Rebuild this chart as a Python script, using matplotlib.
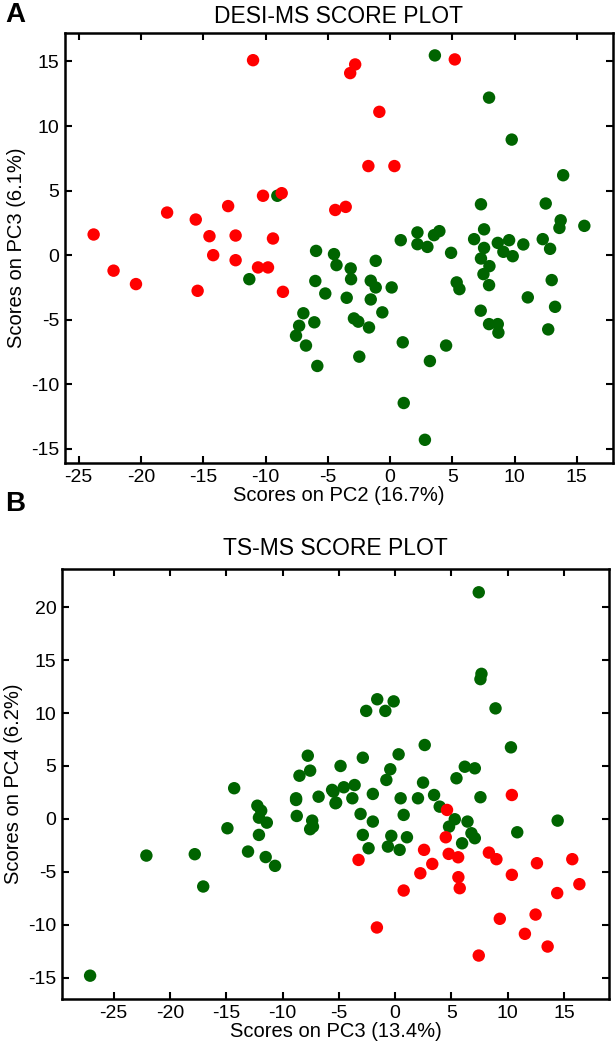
import matplotlib.pyplot as plt

plt.rcParams['font.family'] = ['Liberation Sans', 'DejaVu Sans']
plt.rcParams['axes.unicode_minus'] = False

# DESI-MS scores (PC2, PC3)
desi_red_x = [-11.0, -10.2, -8.7, -17.9, -15.6, -13.0, -23.8, -14.5, -12.4, -9.4,
              -4.4, -14.2, -12.4, -10.6, -9.8, -22.2, -20.4, -15.45, -8.6,
              -2.8, -3.2, 5.2, -0.86, -1.74, 0.35, -3.56]
desi_red_y = [15.1, 4.6, 4.8, 3.3, 2.76, 3.8, 1.6, 1.47, 1.52, 1.29,
              3.5, 0.0, -0.39, -0.95, -0.95, -1.2, -2.24, -2.76, -2.84,
              14.77, 14.1, 15.16, 11.1, 6.9, 6.9, 3.74]
desi_green_x = [-9.05, -5.94, -4.5, -4.3, -11.3, -6.0, -5.2, -6.96, -7.3, -7.55,
                -6.08, -6.75, -5.84, 3.6, 7.95, 9.77, 13.9, 7.3, 12.5, 13.7,
                13.6, 15.6, 7.55, 2.2, 3.53, 3.96, 0.86, 2.2, 3.0, 4.9,
                6.75, 7.55, 8.65, 9.56, 9.1, 9.85, 10.7, 12.26, 12.85, 7.3,
                7.98, -1.15, -3.16, -3.13, -3.48, -1.55, -1.15, 0.13, -1.55, -0.62,
                -2.9, -2.55, -1.69, -2.47, 1.02, 3.2, 4.5, 1.1, 2.8, 7.5,
                7.95, 5.35, 5.57, 7.28, 7.95, 8.65, 8.7, 11.06, 12.98, 13.25,
                12.7]
desi_green_y = [4.6, 0.33, 0.08, -0.77, -1.86, -2.0, -2.97, -4.5, -5.47, -6.24,
                -5.2, -7.0, -8.58, 15.47, 12.2, 8.95, 6.19, 3.94, 4.0, 2.7,
                2.11, 2.27, 2.0, 1.76, 1.55, 1.86, 1.16, 0.85, 0.64, 0.18,
                1.24, 0.56, 0.95, 1.16, 0.26, -0.08, 0.83, 1.24, 0.49, -0.26,
                -0.85, -0.44, -1.03, -1.86, -3.3, -1.98, -2.5, -2.5, -3.43, -4.43,
                -4.9, -5.15, -5.6, -7.86, -6.75, -8.2, -7.0, -11.45, -14.3, -1.47,
                -2.32, -2.11, -2.63, -4.3, -5.34, -5.34, -6.0, -3.27, -1.93, -4.0,
                -5.75]

# TS-MS scores (PC3, PC4)
ts_red_x = [10.37, 4.61, 4.5, 4.76, 5.6, 2.57, 3.3, 2.24, 0.76, -3.25,
            -1.62, 5.62, 5.74, 8.33, 9.0, 10.37, 12.6, 15.74, 16.37, 14.4,
            9.3, 12.48, 11.53, 13.55, 7.43]
ts_red_y = [2.26, 0.85, -1.73, -3.3, -3.62, -2.92, -4.25, -5.13, -6.76, -3.87,
            -10.25, -5.5, -6.54, -3.18, -3.8, -5.28, -4.18, -3.8, -6.16, -7.0,
            -9.43, -9.03, -10.85, -12.05, -12.9]
ts_green_x = [-7.76, -8.5, -7.55, -14.3, -4.85, -8.8, -6.8, -5.6, -27.1, -22.1,
              -17.8, -17.05, -14.9, -13.07, -12.24, -11.9, -12.1, -11.4, -12.1, -11.5,
              -10.67, -8.8, -8.74, -7.37, -7.3, -7.55, -5.3, 7.43, 7.67, 7.58,
              8.92, -1.59, -0.13, -2.57, -0.87, 10.29, 2.63, 0.31, -2.87, -0.43,
              6.19, 7.08, -0.78, 5.45, 2.48, -3.6, -4.56, -1.98, 3.46, -3.8,
              0.49, 2.03, 7.58, -5.48, -5.24, -3.07, -1.98, -2.87, -2.36, 0.76,
              -0.34, -0.64, 0.4, 1.05, 3.96, 5.3, 4.79, 6.43, 6.78, 7.08,
              5.95, 10.85, 14.44]
ts_green_y = [5.97, 4.08, 4.56, 2.9, 5.0, 1.95, 2.1, 2.74, -14.8, -3.46,
              -3.33, -6.38, -0.88, -3.08, 1.25, 0.78, 0.12, -0.35, -1.51, -3.6,
              -4.43, 1.79, 0.28, -0.16, -0.73, -0.97, 1.48, 21.4, 13.7, 13.2,
              10.44, 11.3, 11.1, 10.2, 10.2, 6.76, 6.98, 6.1, 5.78, 4.69,
              4.93, 4.78, 3.68, 3.84, 3.43, 3.2, 2.99, 2.36, 2.26, 1.95,
              1.95, 1.95, 2.05, 2.58, 1.54, 0.47, -0.25, -1.51, -2.77, 0.38,
              -1.6, -2.61, -2.92, -1.73, 1.16, -0.03, -0.73, -0.25, -1.35, -1.82,
              -2.3, -1.26, -0.16]

red = '#ff0000'
green = '#006400'

fig = plt.figure(figsize=(6.16, 10.5), dpi=100)
axA = fig.add_axes([0.1055, 0.559, 0.8896, 0.4095])
axB = fig.add_axes([0.1006, 0.0486, 0.888, 0.4095])


def style(ax):
    for s in ax.spines.values():
        s.set_linewidth(1.8)
    ax.tick_params(direction='in', top=True, right=True, length=5, width=1.5,
                   labelsize=14, pad=4)


axA.scatter(desi_green_x, desi_green_y, s=80, color=green, edgecolors='none', zorder=2)
axA.scatter(desi_red_x, desi_red_y, s=80, color=red, edgecolors='none', zorder=3)
axA.set_xlim(-26.1, 17.9)
axA.set_ylim(-16.1, 17.2)
axA.set_xticks([-25, -20, -15, -10, -5, 0, 5, 10, 15])
axA.set_yticks([-15, -10, -5, 0, 5, 10, 15])
axA.set_xlabel('Scores on PC2 (16.7%)', fontsize=14.5, labelpad=0)
axA.set_ylabel('Scores on PC3 (6.1%)', fontsize=14.5, labelpad=4)
axA.set_title('DESI-MS SCORE PLOT', fontsize=16.5, pad=7)
style(axA)

axB.scatter(ts_green_x, ts_green_y, s=80, color=green, edgecolors='none', zorder=2)
axB.scatter(ts_red_x, ts_red_y, s=80, color=red, edgecolors='none', zorder=3)
axB.set_xlim(-29.6, 19.0)
axB.set_ylim(-17.0, 23.6)
axB.set_xticks([-25, -20, -15, -10, -5, 0, 5, 10, 15])
axB.set_yticks([-15, -10, -5, 0, 5, 10, 15, 20])
axB.set_xlabel('Scores on PC3 (13.4%)', fontsize=14.5, labelpad=0)
axB.set_ylabel('Scores on PC4 (6.2%)', fontsize=14.5, labelpad=4)
axB.set_title('TS-MS SCORE PLOT', fontsize=16.5, pad=10)
style(axB)

fig.text(0.008, 0.986, 'A', fontsize=20, fontweight='bold', va='center')
fig.text(0.008, 0.52, 'B', fontsize=20, fontweight='bold', va='center')

fig.savefig('out.png', dpi=100)
